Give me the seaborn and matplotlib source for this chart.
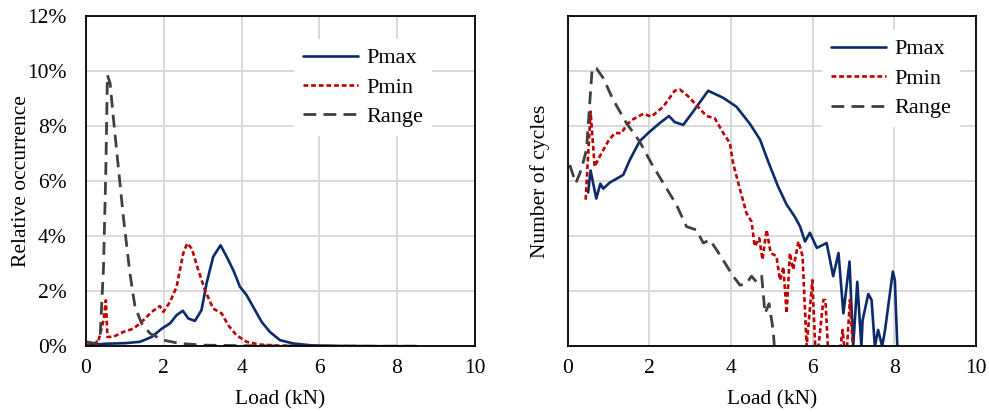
import numpy as np
import pandas as pd
import matplotlib
matplotlib.use("Agg")
import matplotlib.pyplot as plt
import seaborn as sns
from matplotlib.ticker import FuncFormatter, FixedLocator, NullFormatter, NullLocator

# ---- Relative occurrence (%) vs load (kN) ----
occ_pmax_x = [0.0, 0.5, 1.0, 1.39, 1.69, 1.95, 2.16, 2.33, 2.49, 2.63, 2.8, 2.97, 3.1, 3.27,
              3.46, 3.62, 3.79, 3.96, 4.13, 4.3, 4.52, 4.73, 4.99, 5.33, 5.8, 6.5, 7.5, 8.5]
occ_pmax_y = [0.04, 0.1, 0.12, 0.17, 0.35, 0.65, 0.84, 1.14, 1.3, 1.02, 0.93, 1.32, 2.29, 3.26,
              3.68, 3.26, 2.77, 2.17, 1.87, 1.44, 0.89, 0.53, 0.23, 0.11, 0.04, 0.02, 0.01, 0.01]

occ_pmin_x = [0.0, 0.3, 0.45, 0.51, 0.55, 0.7, 0.96, 1.22, 1.43, 1.69, 1.9, 1.99, 2.16, 2.33,
              2.5, 2.6, 2.72, 2.89, 3.06, 3.27, 3.49, 3.66, 3.87, 4.13, 4.47, 5.0, 6.0, 7.0, 8.5]
occ_pmin_y = [0.05, 0.1, 0.95, 1.68, 0.35, 0.35, 0.53, 0.65, 0.89, 1.26, 1.47, 1.26, 1.62, 2.17,
              3.38, 3.75, 3.56, 2.77, 2.05, 1.38, 1.2, 0.77, 0.41, 0.17, 0.07, 0.03, 0.01, 0.01, 0.0]

occ_range_x = [0.0, 0.23, 0.36, 0.45, 0.51, 0.55, 0.62, 0.7, 0.83, 0.96, 1.13, 1.26, 1.43, 1.65,
               1.99, 2.42, 3.0, 4.0, 5.0, 6.5, 8.5]
occ_range_y = [0.17, 0.11, 0.29, 2.9, 6.5, 9.87, 9.56, 8.35, 6.53, 4.71, 2.65, 1.44, 0.84, 0.47,
               0.23, 0.11, 0.05, 0.03, 0.02, 0.01, 0.01]

# ---- Number of cycles vs load (kN), log scale ----
cyc_pmax_x = [0.5, 0.56, 0.70, 0.80, 0.87, 1.03, 1.36, 1.52, 1.76, 1.97, 2.25, 2.48, 2.62, 2.83,
              3.07, 3.44, 3.81, 4.13, 4.46, 4.71, 4.91, 5.15, 5.36, 5.56, 5.69, 5.81, 5.93, 6.10,
              6.34, 6.50, 6.63, 6.75, 6.90, 6.99, 7.09, 7.19, 7.22, 7.36, 7.44, 7.52, 7.60, 7.70,
              7.77, 7.96, 8.01, 8.07]
cyc_pmax_n = [631, 1585, 490, 912, 741, 955, 1318, 2455, 5370, 7586, 11482, 15488, 12023, 10715,
              18621, 44668, 33113, 22909, 11220, 5754, 2291, 813, 380, 229, 151, 81, 117, 62,
              76, 19, 50, 4, 35, 1, 15, 1, 3, 9, 7, 1, 2, 1,
              2, 23, 16, 1]

cyc_pmin_x = [0.44, 0.56, 0.66, 0.78, 0.99, 1.15, 1.32, 1.44, 1.60, 1.85, 2.05, 2.34, 2.62, 2.75,
              2.95, 3.15, 3.40, 3.60, 3.81, 3.97, 4.05, 4.22, 4.38, 4.50, 4.58, 4.69, 4.77, 4.87,
              4.97, 5.11, 5.20, 5.28, 5.36, 5.44, 5.52, 5.65, 5.75, 5.85, 5.99, 6.06, 6.14, 6.26,
              6.31, 6.37, 6.68, 6.73, 6.77, 6.84, 6.91, 6.98]
cyc_pmin_n = [468, 18621, 1862, 2818, 5370, 7586, 7586, 10715, 13490, 16982, 15136, 22909, 44668, 46774,
              35481, 24547, 15488, 14125, 7586, 5012, 2138, 708, 263, 186, 66, 93, 38, 132,
              50, 44, 16, 28, 4, 50, 25, 81, 44, 1, 16, 1, 1, 7,
              7, 1, 1, 2, 1, 1, 7, 1]

cyc_range_x = [0.05, 0.20, 0.33, 0.46, 0.60, 0.70, 0.87, 1.11, 1.44, 1.76, 2.05, 2.34, 2.66, 2.91,
               3.15, 3.32, 3.48, 3.64, 3.85, 4.05, 4.22, 4.38, 4.50, 4.62, 4.75, 4.83, 4.93, 5.03,
               5.06]
cyc_range_n = [1995, 933, 1622, 3802, 114815, 114815, 75858, 30903, 11482, 5370, 2138, 933, 380, 151,
               132, 76, 87, 58, 33, 19, 13, 14, 19, 15, 19, 4, 6, 2,
               1]

series_names = ["Pmax", "Pmin", "Range"]
x_ticks = [0, 2, 4, 6, 8, 10]
pct_ticks = [0, 2, 4, 6, 8, 10, 12]

sns.set_theme(style="white")
plt.rcParams["font.family"] = ["Liberation Serif", "DejaVu Serif"]

styles = {
    "Pmax": dict(color="#0d2a6b", linewidth=1.9, linestyle="-"),
    "Pmin": dict(color="#c00000", linewidth=1.9, linestyle=(0, (1.8, 1.1))),
    "Range": dict(color="#404040", linewidth=2.0, linestyle=(0, (4.6, 2.6))),
}

fig = plt.figure(figsize=(9.89, 4.12), dpi=100)
ax1 = fig.add_axes([0.087, 0.159, 0.393, 0.801])
ax2 = fig.add_axes([0.574, 0.159, 0.413, 0.801])

occ = {
    "Pmax": (occ_pmax_x, occ_pmax_y),
    "Pmin": (occ_pmin_x, occ_pmin_y),
    "Range": (occ_range_x, occ_range_y),
}
cyc = {
    "Pmax": (cyc_pmax_x, cyc_pmax_n),
    "Pmin": (cyc_pmin_x, cyc_pmin_n),
    "Range": (cyc_range_x, cyc_range_n),
}

for name in series_names:
    x, y = occ[name]
    df = pd.DataFrame({"load": x, "value": y})
    sns.lineplot(data=df, x="load", y="value", ax=ax1, label=name, sort=False,
                 estimator=None, **styles[name])
    x, n = cyc[name]
    df = pd.DataFrame({"load": x, "count": n})
    sns.lineplot(data=df, x="load", y="count", ax=ax2, label=name, sort=False,
                 estimator=None, **styles[name])

tick_fs = 15.5
for ax in (ax1, ax2):
    ax.set_xlim(0, 10)
    ax.set_xticks(x_ticks)
    ax.grid(True, color="#d9d9d9", linewidth=1.4)
    ax.set_axisbelow(True)
    for sp in ax.spines.values():
        sp.set_color("black")
        sp.set_linewidth(1.3)
    ax.tick_params(axis="both", length=0, labelsize=tick_fs, colors="black")
    ax.tick_params(axis="x", pad=9)
    ax.set_xlabel("Load (kN)", fontsize=tick_fs, labelpad=9, color="black")

ax1.set_ylim(0, 12)
ax1.set_yticks(pct_ticks)
ax1.yaxis.set_major_formatter(FuncFormatter(lambda v, p: f"{v:.0f}%"))
ax1.tick_params(axis="y", pad=14)
ax1.set_ylabel("Relative occurrence", fontsize=tick_fs, labelpad=-3, color="black")

ax2.set_yscale("log")
ax2.set_ylim(1, 1e6)
ax2.yaxis.set_major_locator(FixedLocator([10 ** k for k in range(7)]))
ax2.yaxis.set_minor_locator(NullLocator())
ax2.yaxis.set_major_formatter(NullFormatter())
ax2.set_ylabel("Number of cycles", fontsize=tick_fs, labelpad=9, color="black")

leg_kw = dict(loc="upper left", fontsize=16, frameon=True, fancybox=False,
              handlelength=2.5, handletextpad=0.35, labelspacing=0.4,
              borderpad=0.4, borderaxespad=0)
l1 = ax1.legend(bbox_to_anchor=(0.535, 0.932), **leg_kw)
l2 = ax2.legend(bbox_to_anchor=(0.622, 0.959), **leg_kw)
for lg in (l1, l2):
    fr = lg.get_frame()
    fr.set_facecolor("white")
    fr.set_edgecolor("none")
    fr.set_alpha(1.0)
    for t in lg.get_texts():
        t.set_color("black")

fig.savefig("out.png", dpi=100)
